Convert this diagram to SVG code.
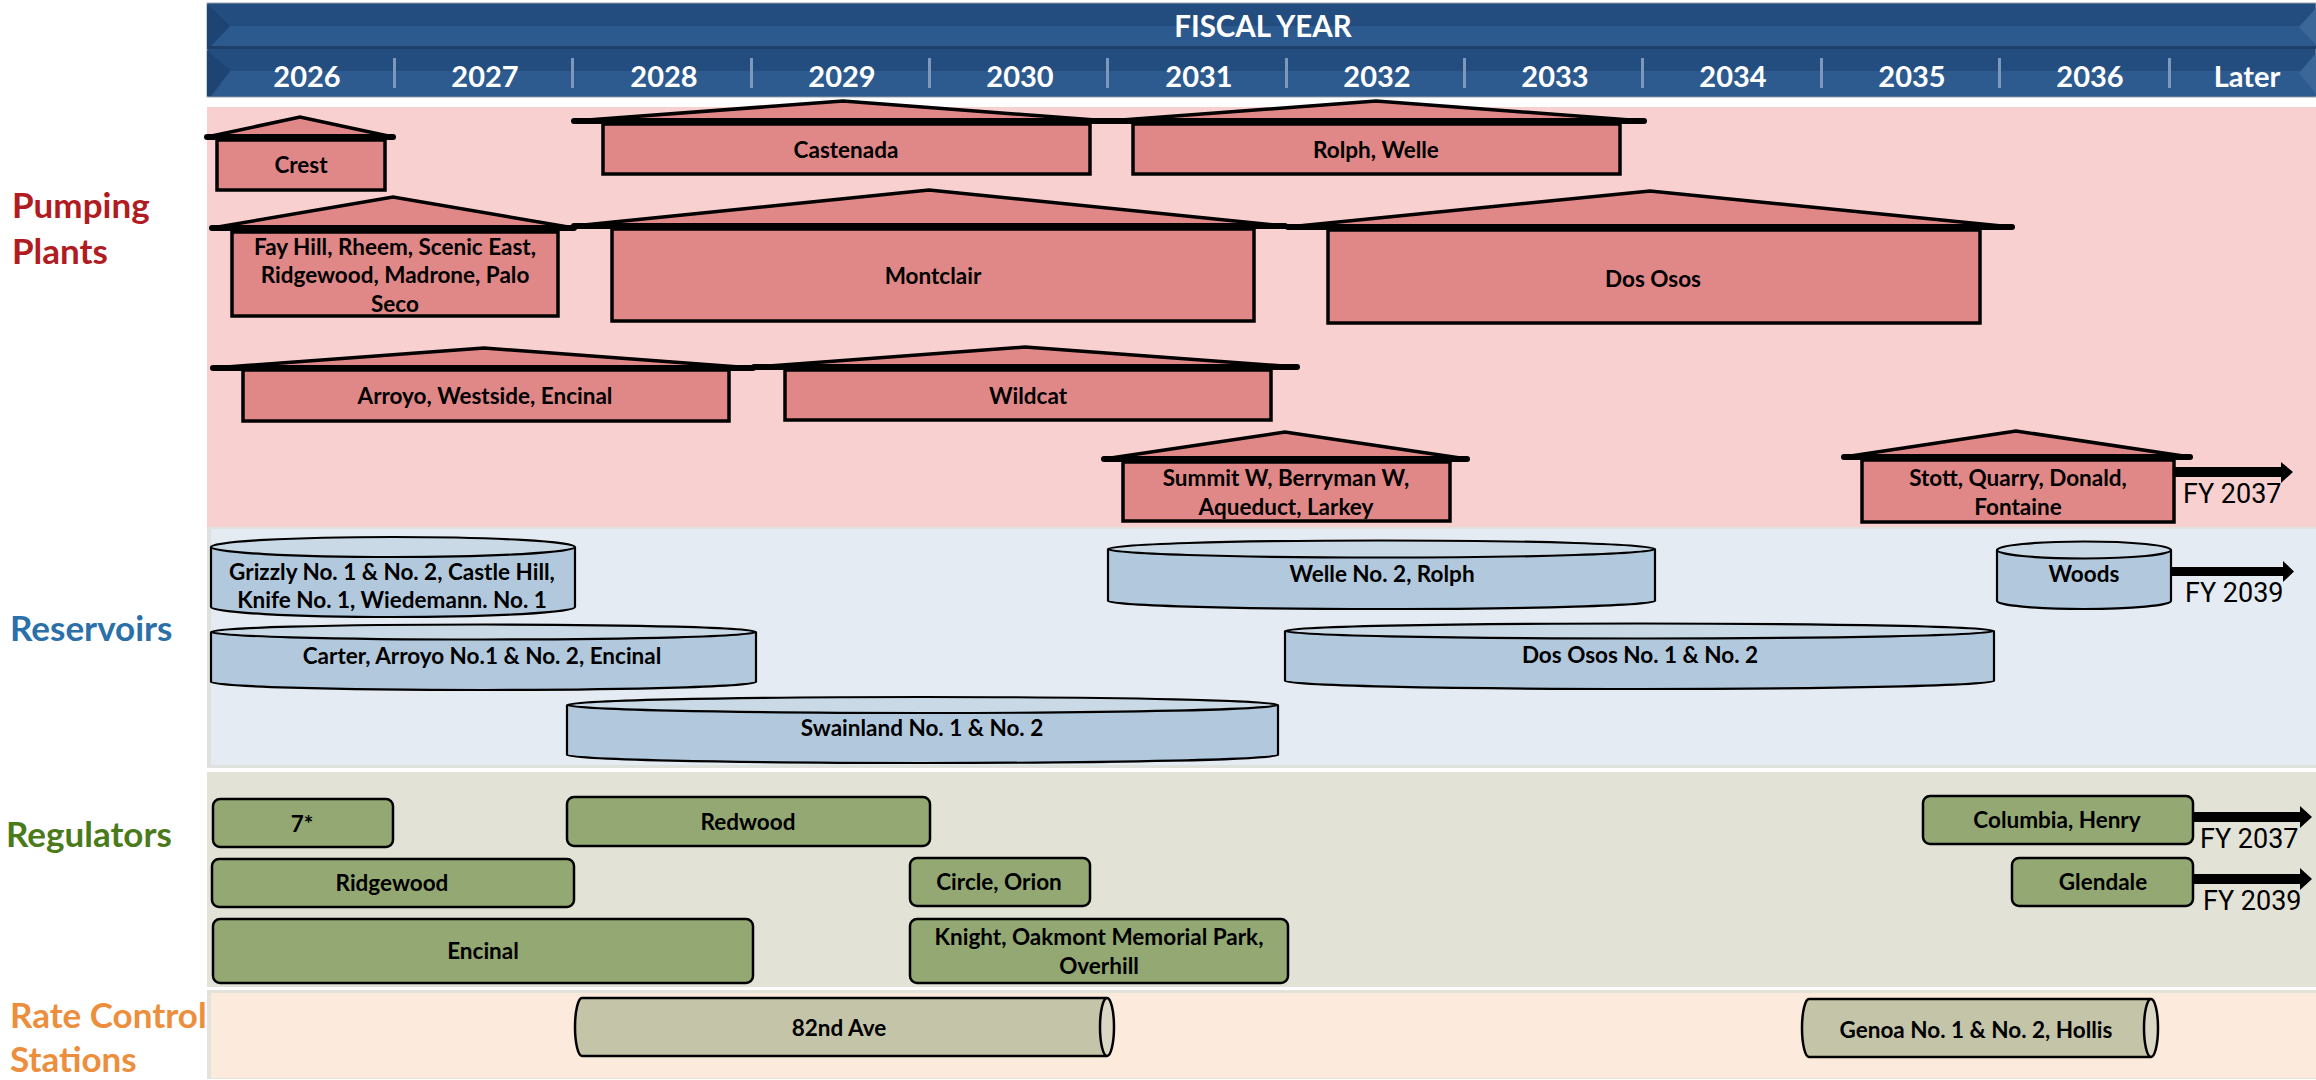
<svg xmlns="http://www.w3.org/2000/svg" width="2316" height="1080" viewBox="0 0 2316 1080">
<defs>
<style>
.t{font-family:Lato,"Liberation Sans",sans-serif;font-weight:bold;font-size:22.5px;fill:#000;text-anchor:middle}
.sec{font-family:Lato,"Liberation Sans",sans-serif;font-weight:bold;font-size:35px}
.yr{font-family:Lato,"Liberation Sans",sans-serif;font-weight:bold;font-size:29px;fill:#fff;text-anchor:middle}
.fy{font-family:Roboto,"Liberation Sans",sans-serif;font-size:27px;fill:#000}
.roof{fill:#E08788;stroke:#000;stroke-width:3.5;stroke-linejoin:miter}
.base{stroke:#000;stroke-width:6;stroke-linecap:round}
.body{fill:#E08788;stroke:#000;stroke-width:3.5}
.cyl{fill:#B2C8DC;stroke:#000;stroke-width:2.2}
.cyltop{fill:#C9D9E6;stroke:#000;stroke-width:2.2}
.reg{fill:#93A873;stroke:#000;stroke-width:2.5}
.rate{fill:#C4C4A9;stroke:#000;stroke-width:2.5}
.rateend{fill:#DAD8C5;stroke:#000;stroke-width:2.5}
.div{fill:#7D98BB}
.arr{fill:#000}
</style>
</defs>
<rect width="2316" height="1080" fill="#fff"/>

<!-- header -->
<g id="header">
<rect x="207" y="3" width="2109" height="94" fill="#234C7F" stroke="#9AA3AE" stroke-width="1"/>
<polygon points="230,26 2316,26 2316,46 211,46" fill="#2D5A8E"/>
<rect x="207" y="46" width="2109" height="3" fill="#1D3F69"/>
<polygon points="230,71 2316,71 2316,96 211,96" fill="#2D5B8F"/>
<polygon points="207,4 230,26 211,46 207,46" fill="#1E4474"/>
<polygon points="207,50 230,71 211,96 207,96" fill="#1E4474"/>
<polygon points="2316,8 2299,27 2316,45" fill="#3A6698"/>
<polygon points="2316,53 2299,73 2316,94" fill="#3A6698"/>
<text x="1263" y="37" class="yr" style="font-size:29.5px">FISCAL YEAR</text>
<rect class="div" x="393" y="58" width="3" height="30"/>
<rect class="div" x="571" y="58" width="3" height="30"/>
<rect class="div" x="750" y="58" width="3" height="30"/>
<rect class="div" x="928" y="58" width="3" height="30"/>
<rect class="div" x="1106" y="58" width="3" height="30"/>
<rect class="div" x="1285" y="58" width="3" height="30"/>
<rect class="div" x="1463" y="58" width="3" height="30"/>
<rect class="div" x="1641" y="58" width="3" height="30"/>
<rect class="div" x="1820" y="58" width="3" height="30"/>
<rect class="div" x="1998" y="58" width="3" height="30"/>
<rect class="div" x="2168" y="58" width="3" height="30"/>
<text class="yr" x="307" y="87">2026</text>
<text class="yr" x="485" y="87">2027</text>
<text class="yr" x="664" y="87">2028</text>
<text class="yr" x="842" y="87">2029</text>
<text class="yr" x="1020" y="87">2030</text>
<text class="yr" x="1199" y="87">2031</text>
<text class="yr" x="1377" y="87">2032</text>
<text class="yr" x="1555" y="87">2033</text>
<text class="yr" x="1733" y="87">2034</text>
<text class="yr" x="1912" y="87">2035</text>
<text class="yr" x="2090" y="87">2036</text>
<text class="yr" x="2247" y="87">Later</text>
</g>

<!-- bands -->
<g id="bands">
<rect x="207" y="107" width="2109" height="420" fill="#F9D0D0"/>
<rect x="207" y="527" width="2109" height="241" fill="#DFE2DC"/>
<rect x="211" y="529" width="2105" height="236" fill="#E4EBF2"/>
<rect x="207" y="772" width="2109" height="215" fill="#E2E2D6"/>
<rect x="207" y="990" width="2109" height="89" fill="#E4E3D9"/>
<rect x="211" y="993" width="2105" height="85" fill="#FCEBDD"/>
</g>

<!-- section labels -->
<g id="labels">
<text class="sec" x="12" y="218" fill="#B01C21">Pumping</text>
<text class="sec" x="12" y="264" fill="#B01C21">Plants</text>
<text class="sec" x="10" y="641" fill="#2C70AA">Reservoirs</text>
<text class="sec" x="6" y="847" fill="#4B7A1B">Regulators</text>
<text class="sec" x="10" y="1028" fill="#EC8E3C">Rate Control</text>
<text class="sec" x="10" y="1072" fill="#EC8E3C">Stations</text>
</g>

<!-- pumping plants -->
<g id="pp-crest">
<polygon class="roof" points="207,137 300,117 393,137"/>
<rect class="body" x="217" y="140" width="168" height="50"/>
<line class="base" x1="207" y1="137" x2="393" y2="137"/>
<text class="t" x="301" y="173">Crest</text>
</g>
<g id="pp-castenada">
<polygon class="roof" points="574,121 843,101 1109,121"/>
<rect class="body" x="603" y="124" width="487" height="50"/>
<line class="base" x1="574" y1="121" x2="1109" y2="121"/>
<text class="t" x="846" y="158">Castenada</text>
</g>
<g id="pp-rolph">
<polygon class="roof" points="1108,121 1376,101 1644,121"/>
<rect class="body" x="1133" y="124" width="487" height="50"/>
<line class="base" x1="1108" y1="121" x2="1644" y2="121"/>
<text class="t" x="1376" y="158">Rolph, Welle</text>
</g>
<g id="pp-fayhill">
<polygon class="roof" points="212,228 393,197 574,228"/>
<rect class="body" x="232" y="232" width="326" height="84"/>
<line class="base" x1="212" y1="228" x2="574" y2="228"/>
<text class="t" x="395" y="255">Fay Hill, Rheem, Scenic East,</text>
<text class="t" x="395" y="283">Ridgewood, Madrone, Palo</text>
<text class="t" x="395" y="312">Seco</text>
</g>
<g id="pp-montclair">
<polygon class="roof" points="574,226 929,190 1285,226"/>
<rect class="body" x="612" y="229" width="642" height="92"/>
<line class="base" x1="574" y1="226" x2="1285" y2="226"/>
<text class="t" x="933" y="284">Montclair</text>
</g>
<g id="pp-dososos">
<polygon class="roof" points="1288,227 1650,191 2012,227"/>
<rect class="body" x="1328" y="230" width="652" height="93"/>
<line class="base" x1="1288" y1="227" x2="2012" y2="227"/>
<text class="t" x="1653" y="287">Dos Osos</text>
</g>
<g id="pp-arroyo">
<polygon class="roof" points="213,368 484,348 753,368"/>
<rect class="body" x="243" y="370" width="486" height="51"/>
<line class="base" x1="213" y1="368" x2="753" y2="368"/>
<text class="t" x="485" y="404">Arroyo, Westside, Encinal</text>
</g>
<g id="pp-wildcat">
<polygon class="roof" points="754,367 1025,347 1297,367"/>
<rect class="body" x="785" y="370" width="486" height="50"/>
<line class="base" x1="754" y1="367" x2="1297" y2="367"/>
<text class="t" x="1028" y="404">Wildcat</text>
</g>
<g id="pp-summit">
<polygon class="roof" points="1104,459 1285,432 1467,459"/>
<rect class="body" x="1123" y="462" width="327" height="59"/>
<line class="base" x1="1104" y1="459" x2="1467" y2="459"/>
<text class="t" x="1286" y="486">Summit W, Berryman W,</text>
<text class="t" x="1286" y="515">Aqueduct, Larkey</text>
</g>
<g id="pp-stott">
<polygon class="roof" points="1844,457 2016,431 2190,457"/>
<rect class="body" x="1862" y="460" width="312" height="62"/>
<line class="base" x1="1844" y1="457" x2="2190" y2="457"/>
<text class="t" x="2018" y="486">Stott, Quarry, Donald,</text>
<text class="t" x="2018" y="515">Fontaine</text>
</g>

<!-- reservoirs -->
<g id="res-grizzly">
<path class="cyl" d="M211,547 V607 A182,10 0 0 0 575,607 V547"/>
<ellipse class="cyltop" cx="393" cy="547" rx="182" ry="10"/>
<text class="t" x="392" y="580">Grizzly No. 1 &amp; No. 2, Castle Hill,</text>
<text class="t" x="392" y="608">Knife No. 1, Wiedemann. No. 1</text>
</g>
<g id="res-carter">
<path class="cyl" d="M211,632 V682 A272.5,8 0 0 0 756,682 V632"/>
<ellipse class="cyltop" cx="483.5" cy="632" rx="272.5" ry="7.5"/>
<text class="t" x="482" y="664">Carter, Arroyo No.1 &amp; No. 2, Encinal</text>
</g>
<g id="res-swainland">
<path class="cyl" d="M567,705 V755 A355.5,8 0 0 0 1278,755 V705"/>
<ellipse class="cyltop" cx="922.5" cy="705" rx="355.5" ry="8"/>
<text class="t" x="922" y="736">Swainland No. 1 &amp; No. 2</text>
</g>
<g id="res-welle">
<path class="cyl" d="M1108,549 V601 A273.5,8 0 0 0 1655,601 V549"/>
<ellipse class="cyltop" cx="1381.5" cy="549" rx="273.5" ry="8.5"/>
<text class="t" x="1382" y="582">Welle No. 2, Rolph</text>
</g>
<g id="res-woods">
<path class="cyl" d="M1997,550 V601 A87,8 0 0 0 2171,601 V550"/>
<ellipse class="cyltop" cx="2084" cy="550" rx="87" ry="8.5"/>
<text class="t" x="2084" y="582">Woods</text>
</g>
<g id="res-dososos">
<path class="cyl" d="M1285,631 V681 A354.5,8 0 0 0 1994,681 V631"/>
<ellipse class="cyltop" cx="1639.5" cy="631" rx="354.5" ry="7.5"/>
<text class="t" x="1640" y="663">Dos Osos No. 1 &amp; No. 2</text>
</g>

<!-- regulators -->
<g id="reg-7">
<rect class="reg" x="213" y="799" width="180" height="48" rx="7"/>
<text class="t" x="302" y="832">7*</text>
</g>
<g id="reg-redwood">
<rect class="reg" x="567" y="797" width="363" height="49" rx="7"/>
<text class="t" x="748" y="830">Redwood</text>
</g>
<g id="reg-ridgewood">
<rect class="reg" x="212" y="859" width="362" height="48" rx="7"/>
<text class="t" x="392" y="891">Ridgewood</text>
</g>
<g id="reg-circle">
<rect class="reg" x="910" y="858" width="180" height="48" rx="7"/>
<text class="t" x="999" y="890">Circle, Orion</text>
</g>
<g id="reg-encinal">
<rect class="reg" x="213" y="919" width="540" height="64" rx="7"/>
<text class="t" x="483" y="959">Encinal</text>
</g>
<g id="reg-knight">
<rect class="reg" x="910" y="919" width="378" height="64" rx="7"/>
<text class="t" x="1099" y="945">Knight, Oakmont Memorial Park,</text>
<text class="t" x="1099" y="974">Overhill</text>
</g>
<g id="reg-columbia">
<rect class="reg" x="1923" y="796" width="270" height="48" rx="7"/>
<text class="t" x="2057" y="828">Columbia, Henry</text>
</g>
<g id="reg-glendale">
<rect class="reg" x="2012" y="858" width="181" height="48" rx="7"/>
<text class="t" x="2103" y="890">Glendale</text>
</g>

<!-- rate control stations -->
<g id="rcs-82nd">
<path class="rate" d="M1107,998 H582 A7,29 0 0 0 582,1056 H1107"/>
<ellipse class="rateend" cx="1107" cy="1027" rx="7" ry="29"/>
<text class="t" x="839" y="1036">82nd Ave</text>
</g>
<g id="rcs-genoa">
<path class="rate" d="M2151,999 H1809 A7,29 0 0 0 1809,1057 H2151"/>
<ellipse class="rateend" cx="2151" cy="1028" rx="7" ry="29"/>
<text class="t" x="1976" y="1038">Genoa No. 1 &amp; No. 2, Hollis</text>
</g>

<!-- connectors -->
<g id="connectors">
<polygon class="arr" points="2174,467 2281,467 2281,462 2293,472 2281,483 2281,477 2174,477"/>
<text class="fy" x="2183" y="503">FY 2037</text>
<polygon class="arr" points="2171,567 2283,567 2283,561 2294,571.5 2283,582 2283,576 2171,576"/>
<text class="fy" x="2185" y="602">FY 2039</text>
<polygon class="arr" points="2193,812 2300,812 2300,806 2312,817 2300,828 2300,822 2193,822"/>
<text class="fy" x="2200" y="848">FY 2037</text>
<polygon class="arr" points="2193,874 2300,874 2300,868 2312,879 2300,890 2300,884 2193,884"/>
<text class="fy" x="2203" y="910">FY 2039</text>
</g>
</svg>
